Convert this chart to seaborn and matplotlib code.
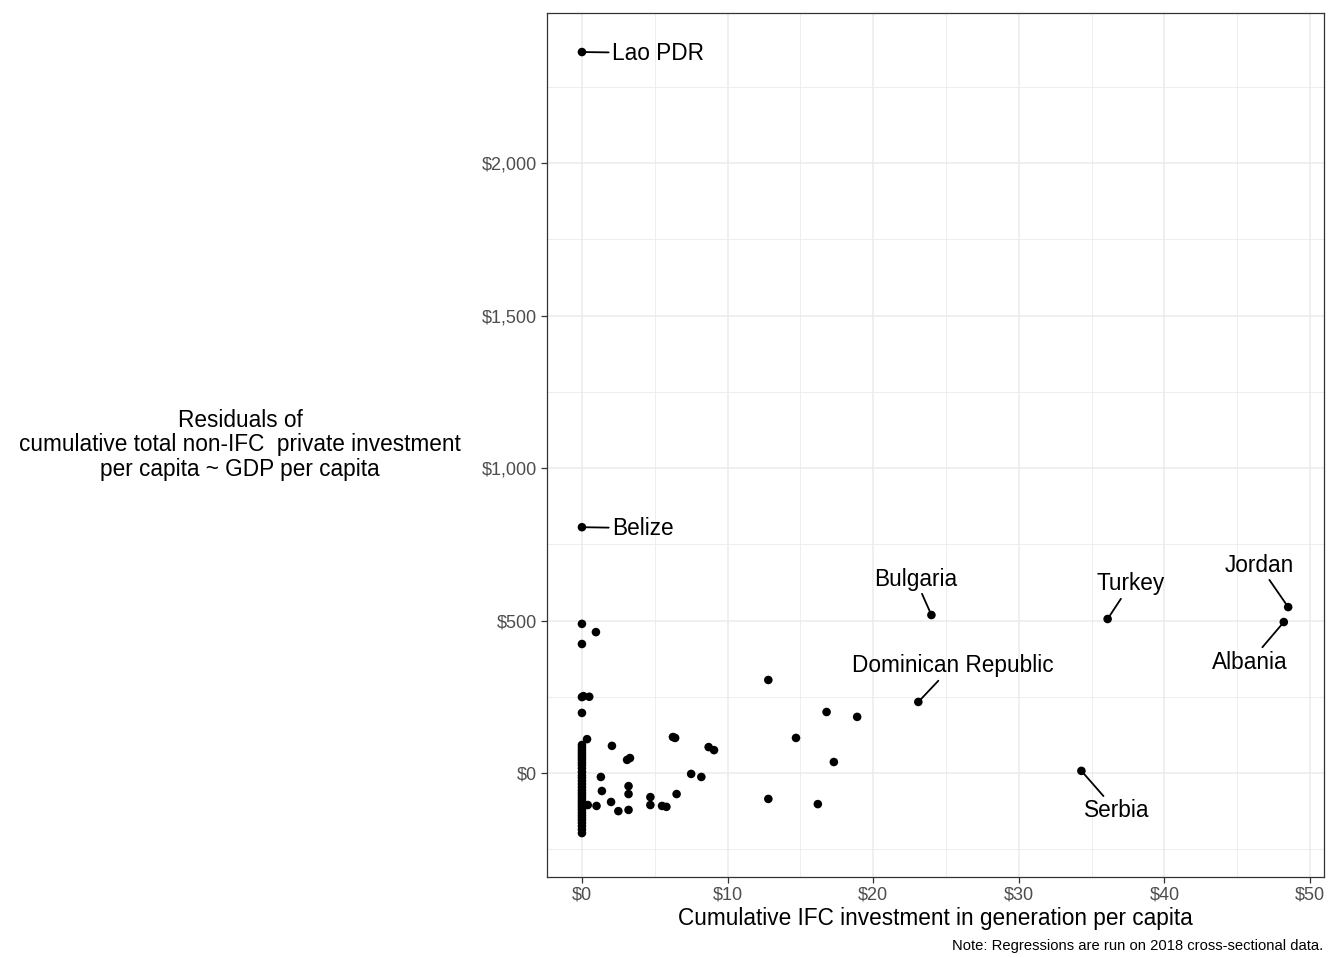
import matplotlib
matplotlib.use("Agg")
import matplotlib.pyplot as plt
import seaborn as sns
import pandas as pd
from matplotlib.ticker import FuncFormatter, MultipleLocator

# ---- data ----
ifc_x = [0, 0, 0, 0.96, 0, 0, 0.1, 0.5, 0, 0.35,
         0, 0, 0, 0, 0, 0, 0, 0, 0, 0, 0, 0, 0, 0, 0, 0, 0,
         0, 0, 0, 0, 0, 0, 0, 0, 0, 0, 0, 0, 0, 0, 0, 0,
         2.06, 3.1, 3.3, 1.3, 1.37, 3.2, 3.2, 2.0, 1.0, 0.4, 2.5, 3.2,
         4.7, 4.7, 5.5, 5.8, 6.5, 6.25, 6.4, 7.5, 8.2, 8.7, 9.07,
         12.8, 12.8, 14.7, 16.8, 17.3, 16.2, 18.9,
         23.1, 24.0, 34.3, 36.1, 48.5, 48.2]
resid_y = [2364, 806, 489, 462, 423, 249, 252, 250, 197, 111,
           92, 75, 59, 43, 26, 3, -16, -36, -56, -72, -89, -105, -121, -138, -154, -174, -197,
           84, 67, 51, 34, 15, -8, -26, -46, -64, -80, -97, -113, -130, -146, -164, -185,
           89, 43, 49, -13, -59, -43, -69, -95, -108, -105, -125, -121,
           -79, -105, -108, -111, -69, 118, 115, -3, -13, 85, 75,
           305, -85, 115, 200, 36, -102, 184,
           233, 518, 7, 505, 544, 495]

label_names = ["Lao PDR", "Belize", "Bulgaria", "Dominican Republic",
               "Turkey", "Jordan", "Albania", "Serbia"]
label_x = [0, 0, 24.0, 23.1, 36.1, 48.5, 48.2, 34.3]
label_y = [2364, 806, 518, 233, 505, 544, 495, 7]

x_ticks = [0, 10, 20, 30, 40, 50]
y_ticks = [0, 500, 1000, 1500, 2000]

x_title = "Cumulative IFC investment in generation per capita"
y_title = "Residuals of\ncumulative total non-IFC  private investment\nper capita ~ GDP per capita"
note = "Note: Regressions are run on 2018 cross-sectional data."

# ---- style ----
sns.set_theme(style="white")
plt.rcParams["font.family"] = ["Liberation Sans", "DejaVu Sans"]

df = pd.DataFrame({"ifc": ifc_x, "resid": resid_y})

fig = plt.figure(figsize=(13.28, 9.58), dpi=100)
ax = fig.add_axes([547 / 1328, 1 - 877 / 958, 777 / 1328, 864 / 958])

sns.scatterplot(data=df, x="ifc", y="resid", ax=ax, color="black",
                s=38, edgecolor="none", linewidth=0, zorder=3)

ax.set_xlim(-2.4, 50.96)
ax.set_ylim(-341, 2492)
ax.xaxis.set_major_locator(plt.FixedLocator(x_ticks))
ax.yaxis.set_major_locator(plt.FixedLocator(y_ticks))
ax.xaxis.set_minor_locator(MultipleLocator(5))
ax.yaxis.set_minor_locator(MultipleLocator(250))
ax.xaxis.set_major_formatter(FuncFormatter(lambda v, p: f"${v:,.0f}"))
ax.yaxis.set_major_formatter(FuncFormatter(lambda v, p: f"${v:,.0f}"))

ax.grid(which="major", color="#EBEBEB", linewidth=1.1, zorder=0)
ax.grid(which="minor", color="#EBEBEB", linewidth=0.6, zorder=0)
ax.set_axisbelow(True)
for sp in ax.spines.values():
    sp.set_color("#333333")
    sp.set_linewidth(0.9)

ax.tick_params(axis="both", which="major", length=4, width=0.9, color="#333333",
               labelsize=13, labelcolor="#4D4D4D", direction="out", pad=3,
               bottom=True, left=True)
ax.tick_params(axis="both", which="minor", length=0)

ax.set_xlabel(x_title, fontsize=16.3, color="black")
ax.xaxis.set_label_coords(0.5, (877 - 918) / 864)
ax.xaxis.label.set_va("center")
ax.set_ylabel(y_title, fontsize=16.3, color="black", rotation=0,
              ha="center", va="center", linespacing=1.08)
ax.yaxis.set_label_coords((240 - 547) / 777, (877 - 445) / 864)

# label offsets in pixels (dx, dy) and alignment
offsets = {
    "Lao PDR": (30, -1, "left"),
    "Belize": (30, -1, "left"),
    "Bulgaria": (-16, 36, "center"),
    "Dominican Republic": (34, 36, "center"),
    "Turkey": (23, 35, "center"),
    "Jordan": (-29, 42, "center"),
    "Albania": (-34, -40, "center"),
    "Serbia": (35, -40, "center"),
}
for name, lx, ly in zip(label_names, label_x, label_y):
    dx, dy, ha = offsets[name]
    ax.annotate(name, xy=(lx, ly), xytext=(dx, dy), textcoords="offset pixels",
                ha=ha, va="center", fontsize=16.3, color="black", zorder=4,
                arrowprops=dict(arrowstyle="-", color="black", lw=1.3,
                                shrinkA=0, shrinkB=1))

fig.text(1323 / 1328, 1 - 946 / 958, note, ha="right", va="center",
         fontsize=10.6, color="black")

fig.savefig("out.png", dpi=100, facecolor="white")
